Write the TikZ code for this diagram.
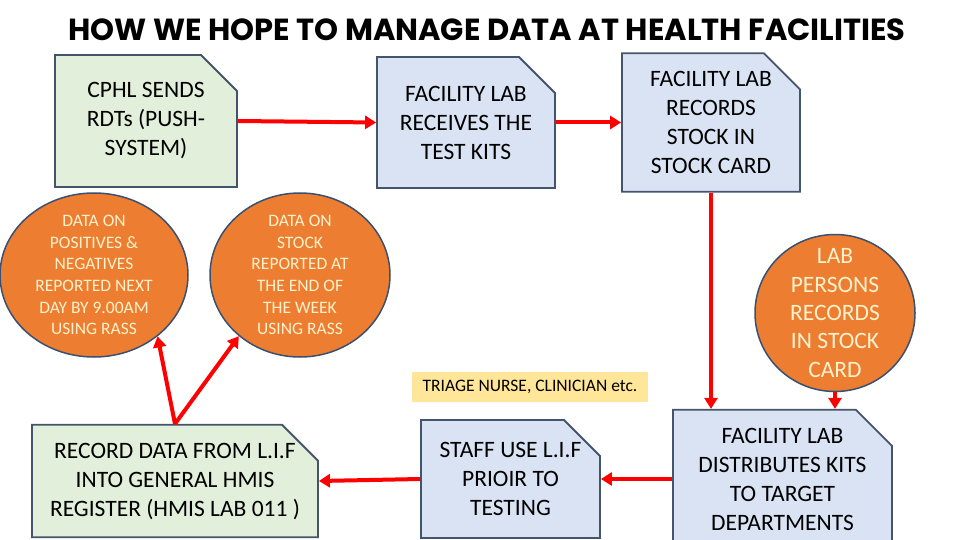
\documentclass[tikz,border=0pt]{standalone}
\usepackage{fontspec}
\setmainfont{Carlito}
\newfontfamily\titlefont{Poppins}
\usetikzlibrary{shapes.misc,shapes.geometric,arrows.meta}

\definecolor{cardline}{HTML}{44546A}
\definecolor{cardgreen}{HTML}{E2EFDA}
\definecolor{cardblue}{HTML}{DAE3F3}
\definecolor{blobfill}{HTML}{ED7D31}
\definecolor{blobline}{HTML}{3A5070}
\definecolor{blobtext}{HTML}{FFF2CC}
\definecolor{notefill}{HTML}{FFE699}

\begin{document}
\begin{tikzpicture}[x=1pt, y=-1pt,
  card/.style={chamfered rectangle, chamfered rectangle corners=north east,
    chamfered rectangle xsep=18pt, chamfered rectangle ysep=18pt,
    draw=cardline, line width=1.8pt, align=center, inner sep=0pt,
    font=\fontsize{23.5}{29}\selectfont},
  blob/.style={ellipse, draw=blobline, line width=1.5pt, fill=blobfill,
    text=blobtext, align=center, inner xsep=0pt},
  flow/.style={draw=red, line width=4pt, -{Triangle[length=11pt,width=13pt]}}]
  \useasboundingbox (0,0) rectangle (960,540);

  \node[font=\titlefont\bfseries\fontsize{30.5}{34}\selectfont] (title) at (487,30)
    {HOW WE HOPE TO MANAGE DATA AT HEALTH FACILITIES};

  % top row
  \node[card, fill=cardgreen, minimum width=182pt, minimum height=132pt] (cphl) at (146,121)
    {CPHL SENDS\\RDTs (PUSH-\\SYSTEM)};
  \node[card, fill=cardblue, minimum width=178pt, minimum height=131pt] (receive) at (466,122.5)
    {FACILITY LAB\\RECEIVES THE\\TEST KITS};
  \node[card, fill=cardblue, minimum width=178pt, minimum height=131pt] (stock) at (711,122.5)
    {FACILITY LAB\\RECORDS\\STOCK IN\\STOCK CARD};

  % reporting
  \node[blob, minimum width=188pt, minimum height=164pt, inner ysep=-10pt,
    font=\fontsize{17.5}{21.7}\selectfont] (daily) at (94,275)
    {DATA ON\\POSITIVES \&\\NEGATIVES\\REPORTED NEXT\\DAY BY 9.00AM\\USING RASS};
  \node[blob, minimum width=180pt, minimum height=164pt, inner ysep=-10pt,
    font=\fontsize{17.5}{21.7}\selectfont] (weekly) at (300,275)
    {DATA ON\\STOCK\\REPORTED AT\\THE END OF\\THE WEEK\\USING RASS};
  \node[blob, minimum width=160pt, minimum height=157pt, inner ysep=-17pt,
    font=\fontsize{23.5}{28.3}\selectfont] (persons) at (835,313)
    {LAB\\PERSONS\\RECORDS\\IN STOCK\\CARD};

  \node[fill=notefill, minimum width=236pt, minimum height=30pt,
    font=\fontsize{17.5}{20}\selectfont] (triage) at (530,387)
    {TRIAGE NURSE, CLINICIAN etc.};

  % bottom row
  \node[card, fill=cardblue, minimum width=219pt, minimum height=118pt] (distrib) at (782.5,479)
    {FACILITY LAB\\DISTRIBUTES KITS\\TO TARGET\\DEPARTMENTS};
  \node[card, fill=cardblue, minimum width=179pt, minimum height=118pt] (staff) at (510.5,479)
    {STAFF USE L.I.F\\PRIOIR TO\\TESTING};
  \node[card, fill=cardgreen, minimum width=284pt, minimum height=104pt] (hmis) at (175,481)
    {RECORD DATA FROM L.I.F\\INTO GENERAL HMIS\\REGISTER (HMIS LAB 011 )};

  % arrows
  \draw[flow] (cphl.east) -- (receive.west);
  \draw[flow] (receive.east) -- (stock.west);
  \draw[flow] (stock.south) -- (stock.south |- distrib.north);
  \draw[flow] (persons.south) -- (persons.south |- distrib.north);
  \draw[flow] (distrib.west) -- (staff.east);
  \draw[flow] (staff.west) -- (hmis.east);
  \draw[flow] (hmis.north) -- (daily.-44);
  \draw[flow] (hmis.north) -- (weekly.-135);
\end{tikzpicture}
\end{document}
